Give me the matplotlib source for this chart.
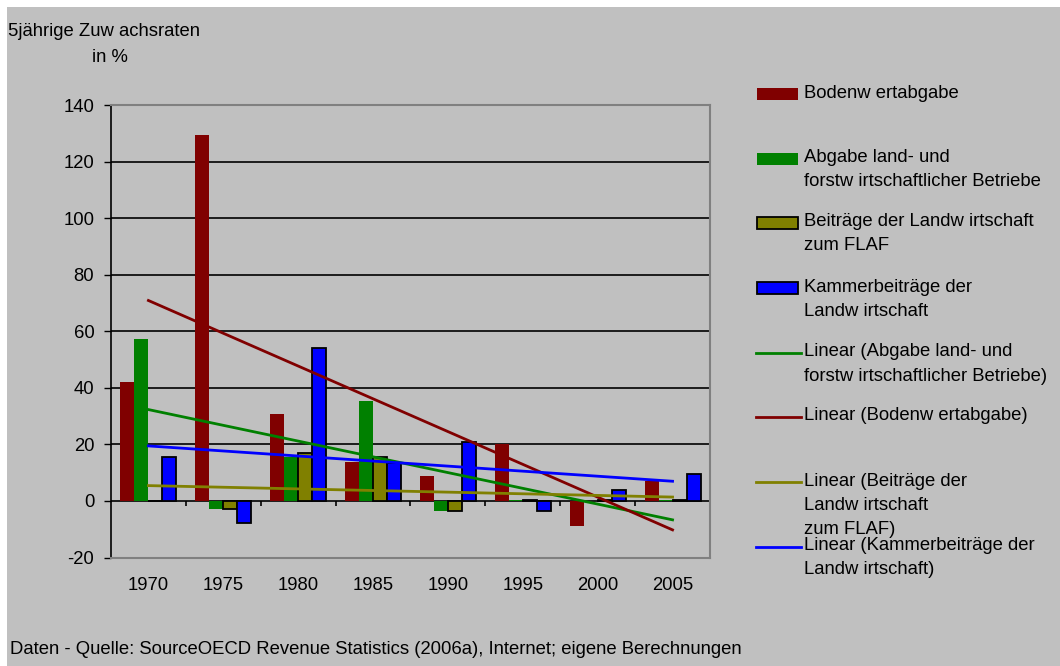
import matplotlib.pyplot as plt
import numpy as np
from matplotlib.patches import Rectangle
from matplotlib.lines import Line2D

plt.rcParams['font.family'] = ['Liberation Sans', 'DejaVu Sans']

years = ['1970', '1975', '1980', '1985', '1990', '1995', '2000', '2005']
bodenwert = [42.0, 129.4, 30.6, 13.7, 8.7, 20.2, -8.9, 6.9]
abgabe_land = [57.2, -2.9, 15.7, 35.2, -3.4, 0.3, 0.0, 0.4]
beitraege_flaf = [0.0, -3.0, 16.9, 15.5, -3.4, 0.5, 0.2, 0.5]
kammer = [15.5, -7.9, 54.2, 13.3, 21.0, -3.6, 3.8, 9.4]

bg = '#C0C0C0'
red = '#800000'
green = '#008000'
olive = '#808000'
blue = '#0000FF'
fs = 13.3
W, H = 1060, 666

fig = plt.figure(figsize=(10.6, 6.66), dpi=100, facecolor='white')
# gray chart area with the thin white margin on top and left
fig.patches.append(Rectangle((7 / W, 0), 1 - 7 / W, 1 - 7 / H, transform=fig.transFigure,
                             facecolor=bg, edgecolor='none', zorder=-5))
ax = fig.add_axes([0.1047, 0.1629, 0.5651, 0.6794], facecolor=bg)

x = np.arange(len(years))
w = 0.187
ax.bar(x - 1.5 * w, bodenwert, w, color=red, zorder=3)
ax.bar(x - 0.5 * w, abgabe_land, w, color=green, zorder=3)
ax.bar(x + 0.5 * w, beitraege_flaf, w, color=olive, edgecolor='black', linewidth=1.3, zorder=3)
ax.bar(x + 1.5 * w, kammer, w, color=blue, edgecolor='black', linewidth=1.3, zorder=3)

# linear trendlines (least squares, like the Excel trendline)
xs = x + 1.0
for series, col in [(abgabe_land, green), (bodenwert, red), (beitraege_flaf, olive), (kammer, blue)]:
    k, d = np.polyfit(xs, series, 1)
    ax.plot(x, k * xs + d, color=col, lw=2, zorder=4)

ax.set_xlim(-0.5, 7.5)
ax.set_ylim(-20, 140)
ax.set_yticks(np.arange(-20, 141, 20))
ax.set_yticklabels([str(v) for v in range(-20, 141, 20)], fontsize=fs)
ax.tick_params(axis='y', direction='out', length=5, width=1, pad=7)
for gy in range(0, 140, 20):
    ax.axhline(gy, color='black', lw=1.2, zorder=1)

ax.set_xticks(x)
ax.set_xticklabels(years, fontsize=fs)
ax.tick_params(axis='x', length=0, pad=14)
ax.vlines(np.arange(0.5, 7.6, 1.0), -1.8, 0, color='black', lw=1.2, zorder=2)

for s in ['top', 'right', 'bottom']:
    ax.spines[s].set_color('#808080')
    ax.spines[s].set_linewidth(1.5)
ax.spines['left'].set_color('black')
ax.spines['left'].set_linewidth(1.2)

fig.text(8 / W, 1 - 32 / H, '5jährige Zuw achsraten', fontsize=fs, va='center', ha='left')
fig.text(92 / W, 1 - 57 / H, 'in %', fontsize=fs, va='center', ha='left')
fig.text(10 / W, 1 - 650 / H, 'Daten - Quelle: SourceOECD Revenue Statistics (2006a), Internet; eigene Berechnungen',
         fontsize=fs, va='center', ha='left')

# legend, laid out by hand like the original
legend = [
    ('patch', red, None, 94, ['Bodenw ertabgabe']),
    ('patch', green, None, 159, ['Abgabe land- und', 'forstw irtschaftlicher Betriebe']),
    ('patch', olive, 'black', 223, ['Beiträge der Landw irtschaft', 'zum FLAF']),
    ('patch', blue, 'black', 288, ['Kammerbeiträge der', 'Landw irtschaft']),
    ('line', green, None, 353, ['Linear (Abgabe land- und', 'forstw irtschaftlicher Betriebe)']),
    ('line', red, None, 417, ['Linear (Bodenw ertabgabe)']),
    ('line', olive, None, 482, ['Linear (Beiträge der', 'Landw irtschaft', 'zum FLAF)']),
    ('line', blue, None, 547, ['Linear (Kammerbeiträge der', 'Landw irtschaft)']),
]
for kind, col, ec, ypx, lines in legend:
    if kind == 'patch':
        r = Rectangle((757 / W, 1 - (ypx + 6) / H), 41 / W, 12 / H, transform=fig.transFigure,
                      facecolor=col, edgecolor=ec if ec else col, linewidth=1.3 if ec else 0)
        fig.patches.append(r)
    else:
        fig.lines.append(Line2D([756 / W, 801 / W], [1 - ypx / H, 1 - ypx / H], transform=fig.transFigure,
                                color=col, lw=2))
    for j, t in enumerate(lines):
        fig.text(804 / W, 1 - (ypx - 1 + j * 24) / H, t, fontsize=fs, va='center', ha='left')

plt.savefig('out.png', dpi=100, facecolor='white')
